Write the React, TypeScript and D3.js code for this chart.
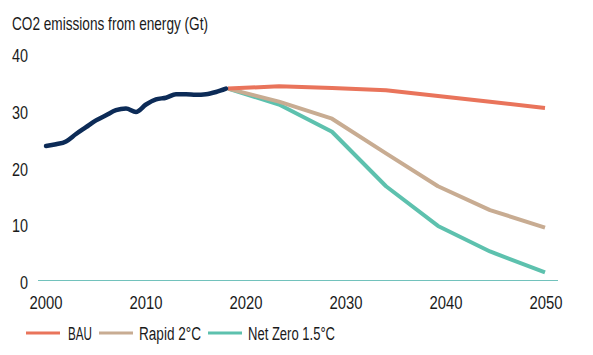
import React from "react";
import * as d3 from "d3";

const histYears = [2000, 2001, 2002, 2003, 2004, 2005, 2006, 2007, 2008, 2009, 2010, 2011, 2012, 2013, 2014, 2015, 2016, 2017, 2018];
const histValues = [23.8, 24.1, 24.6, 25.9, 27.1, 28.3, 29.2, 30.1, 30.4, 29.8, 31.1, 32.0, 32.3, 32.9, 32.9, 32.8, 32.9, 33.3, 33.9];

const scenYears = [2018.2, 2023.3, 2028.6, 2034, 2039.2, 2044.4, 2049.9];
const bauValues = [33.9, 34.3, 34.0, 33.6, 32.6, 31.6, 30.5];
const rapidValues = [33.9, 31.6, 28.6, 22.5, 16.7, 12.5, 9.4];
const netZeroValues = [33.9, 31.1, 26.3, 16.7, 9.7, 5.2, 1.5];

const xTicks = [2000, 2010, 2020, 2030, 2040, 2050];
const yTicks = [0, 10, 20, 30, 40];

const title = "CO2 emissions from energy (Gt)";
const seriesNames = ["BAU", "Rapid 2°C", "Net Zero 1.5°C"];
const seriesColors = ["#E9745B", "#C8AC92", "#5DC1AE"];
const histColor = "#0C2B57";

const FONT = "'Liberation Sans', Arial, sans-serif";

export default function App() {
  const W = 593, H = 355;
  const x = d3.scaleLinear().domain([2000, 2050]).range([46, 546]);
  const y = d3.scaleLinear().domain([0, 40]).range([281, 54]);

  const histLine = d3
    .line<number>()
    .x((_, i) => x(histYears[i]))
    .y((d) => y(d))
    .curve(d3.curveMonotoneX);
  const scenLine = d3
    .line<number>()
    .x((_, i) => x(scenYears[i]))
    .y((d) => y(d));

  const scen = [bauValues, rapidValues, netZeroValues];
  const drawOrder = [2, 1, 0];

  const legendX = [26, 99, 208];
  const legendTextX = [68, 139, 248];
  const legendTextW = [24, 62, 87];

  return (
    <svg width={W} height={H} style={{ position: "absolute", left: 0, top: 0, background: "#fff" }} fontFamily={FONT}>
      <text x={12} y={30} fontSize={18.5} fill="#1a1a1a" textLength={196} lengthAdjust="spacingAndGlyphs">{title}</text>
      {yTicks.map((t) => {
        const s = String(t);
        return (
          <text key={t} x={28 - 8 * s.length} y={y(t) + 8} fontSize={17.5} fill="#1a1a1a" textLength={8 * s.length} lengthAdjust="spacingAndGlyphs">{s}</text>
        );
      })}
      {xTicks.map((t) => (
        <text key={t} x={x(t) - 16.5} y={309} fontSize={17.5} fill="#1a1a1a" textLength={33} lengthAdjust="spacingAndGlyphs">{t}</text>
      ))}
      <line x1={38} x2={558} y1={y(0) - 0.5} y2={y(0) - 0.5} stroke="#72C2BC" strokeWidth={1} />
      {drawOrder.map((k) => (
        <path key={k} d={scenLine(scen[k]) || ""} fill="none" stroke={seriesColors[k]} strokeWidth={4} strokeLinejoin="round" />
      ))}
      <path d={histLine(histValues) || ""} fill="none" stroke={histColor} strokeWidth={4.5} strokeLinejoin="round" strokeLinecap="round" />
      {seriesNames.map((n, i) => (
        <g key={n}>
          <line x1={legendX[i]} x2={legendX[i] + 34} y1={333} y2={333} stroke={seriesColors[i]} strokeWidth={3} />
          <text x={legendTextX[i]} y={340} fontSize={18} fill="#1a1a1a" textLength={legendTextW[i]} lengthAdjust="spacingAndGlyphs">{n}</text>
        </g>
      ))}
    </svg>
  );
}
